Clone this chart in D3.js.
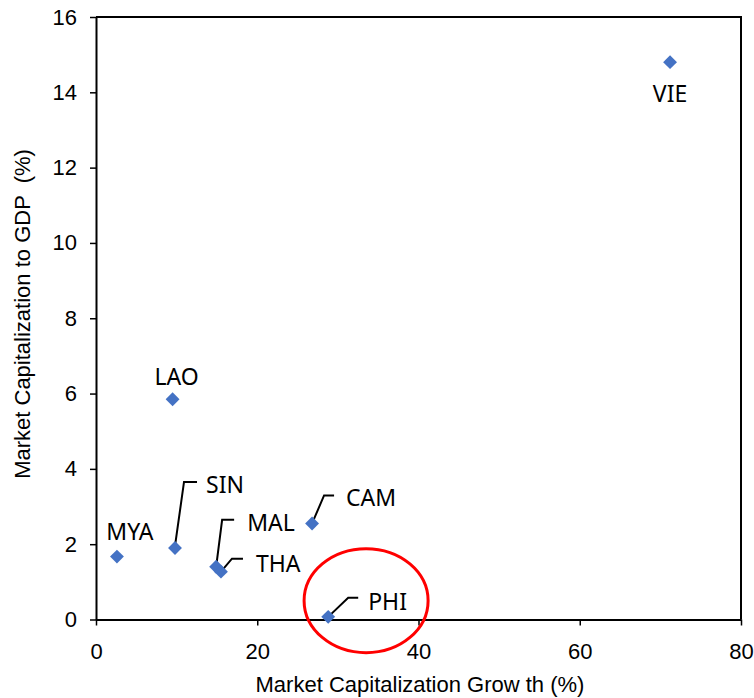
<!DOCTYPE html>
<html>
<head>
<meta charset="utf-8">
<script src="https://cdn.jsdelivr.net/npm/d3@7"></script>
<style>
  body { margin: 0; background: #fff; }
  svg { display: block; }
</style>
</head>
<body>
<div class="svg-container"></div>
<script>
// data
let countries = ["VIE", "LAO", "MYA", "SIN", "MAL", "THA", "CAM", "PHI"];
let capGrowth = [71.2, 9.5, 2.6, 9.8, 14.9, 15.5, 26.8, 28.8];
let capToGdp  = [14.8, 5.85, 1.67, 1.9, 1.4, 1.27, 2.55, 0.07];
let xTicks = [0, 20, 40, 60, 80];
let yTicks = [0, 2, 4, 6, 8, 10, 12, 14, 16];

// label placement (pixel offsets from the marker) and leader lines
let labelPlace = {
    VIE: { dx: 0,  dy: 40,  anchor: "middle" },
    LAO: { dx: 4,  dy: -14, anchor: "middle" },
    MYA: { dx: 13, dy: -17, anchor: "middle" },
    SIN: { dx: 31, dy: -55, anchor: "start", leader: [[0, -2], [9, -66], [22, -66]] },
    MAL: { dx: 31, dy: -36, anchor: "start", leader: [[0, 0], [6, -47], [18, -47]] },
    THA: { dx: 35, dy: 0,   anchor: "start", leader: [[0, 0], [11, -13], [22, -13]] },
    CAM: { dx: 34, dy: -17, anchor: "start", leader: [[0, 0], [12, -28], [22, -28]] },
    PHI: { dx: 40, dy: -7,  anchor: "start", leader: [[0, 0], [20, -19], [30, -19]] }
};

let width = 754;
let height = 698;
let margin = { left: 96, right: 13, top: 17, bottom: 78.5 };

let svg = d3.select(".svg-container")
    .append("svg")
    .attr("width", width)
    .attr("height", height);

let x = d3.scaleLinear().domain([0, 80]).range([margin.left, width - margin.right]);
let y = d3.scaleLinear().domain([0, 16]).range([height - margin.bottom, margin.top]);

let points = countries.map((c, i) => ({ name: c, gx: capGrowth[i], gy: capToGdp[i] }));

// frame (top and right edges)
svg.append("path")
    .attr("d", "M" + x(0) + "," + y(16) + "H" + x(80) + "V" + y(0))
    .attr("fill", "none")
    .attr("stroke", "#000")
    .attr("stroke-width", 2);

let xAxis = svg.append("g")
    .attr("transform", "translate(0," + y(0) + ")")
    .call(d3.axisBottom(x).tickValues(xTicks).tickSize(6).tickPadding(18).tickSizeOuter(0));

let yAxis = svg.append("g")
    .attr("transform", "translate(" + x(0) + ",0)")
    .call(d3.axisLeft(y).tickValues(yTicks).tickSize(6).tickPadding(13).tickSizeOuter(0));

[xAxis, yAxis].forEach(a => {
    a.select(".domain").attr("stroke", "#000").attr("stroke-width", 2);
    a.selectAll(".tick line").attr("stroke", "#000").attr("stroke-width", 1.5);
    a.selectAll(".tick text")
        .attr("fill", "#000")
        .style("font-family", "'Liberation Sans', Arial, sans-serif")
        .style("font-size", "22px");
});

// axis titles
svg.append("text")
    .attr("x", 420)
    .attr("y", 692)
    .attr("text-anchor", "middle")
    .style("font-family", "'Liberation Sans', Arial, sans-serif")
    .style("font-size", "22px")
    .text("Market Capitalization Grow th (%)");

svg.append("text")
    .attr("transform", "translate(30," + 314 + ") rotate(-90)")
    .attr("text-anchor", "middle")
    .style("font-family", "'Liberation Sans', Arial, sans-serif")
    .style("font-size", "22px")
    .style("white-space", "pre")
    .text("Market Capitalization to GDP  (%)");

// leader lines
let leaderLine = d3.line();
svg.append("g")
    .selectAll("path")
    .data(points.filter(d => labelPlace[d.name].leader))
    .enter()
    .append("path")
    .attr("d", d => leaderLine(labelPlace[d.name].leader.map(p => [x(d.gx) + p[0], y(d.gy) + p[1]])))
    .attr("fill", "none")
    .attr("stroke", "#000")
    .attr("stroke-width", 2);

// markers
svg.append("g")
    .selectAll("path")
    .data(points)
    .enter()
    .append("path")
    .attr("d", d3.symbol(d3.symbolSquare, 96))
    .attr("transform", d => "translate(" + x(d.gx) + "," + y(d.gy) + ") rotate(45)")
    .attr("fill", "#4472C4");

// labels
svg.append("g")
    .selectAll("text")
    .data(points)
    .enter()
    .append("text")
    .attr("x", d => x(d.gx) + labelPlace[d.name].dx)
    .attr("y", d => y(d.gy) + labelPlace[d.name].dy)
    .attr("text-anchor", d => labelPlace[d.name].anchor)
    .style("font-family", "'Noto Sans', sans-serif")
    .style("font-size", "23px")
    .attr("fill", "#000")
    .text(d => d.name);

// red highlight ellipse around PHI
svg.append("ellipse")
    .attr("cx", x(33.5))
    .attr("cy", y(0.5))
    .attr("rx", 62)
    .attr("ry", 52)
    .attr("fill", "none")
    .attr("stroke", "#FF0000")
    .attr("stroke-width", 3);
</script>
</body>
</html>
